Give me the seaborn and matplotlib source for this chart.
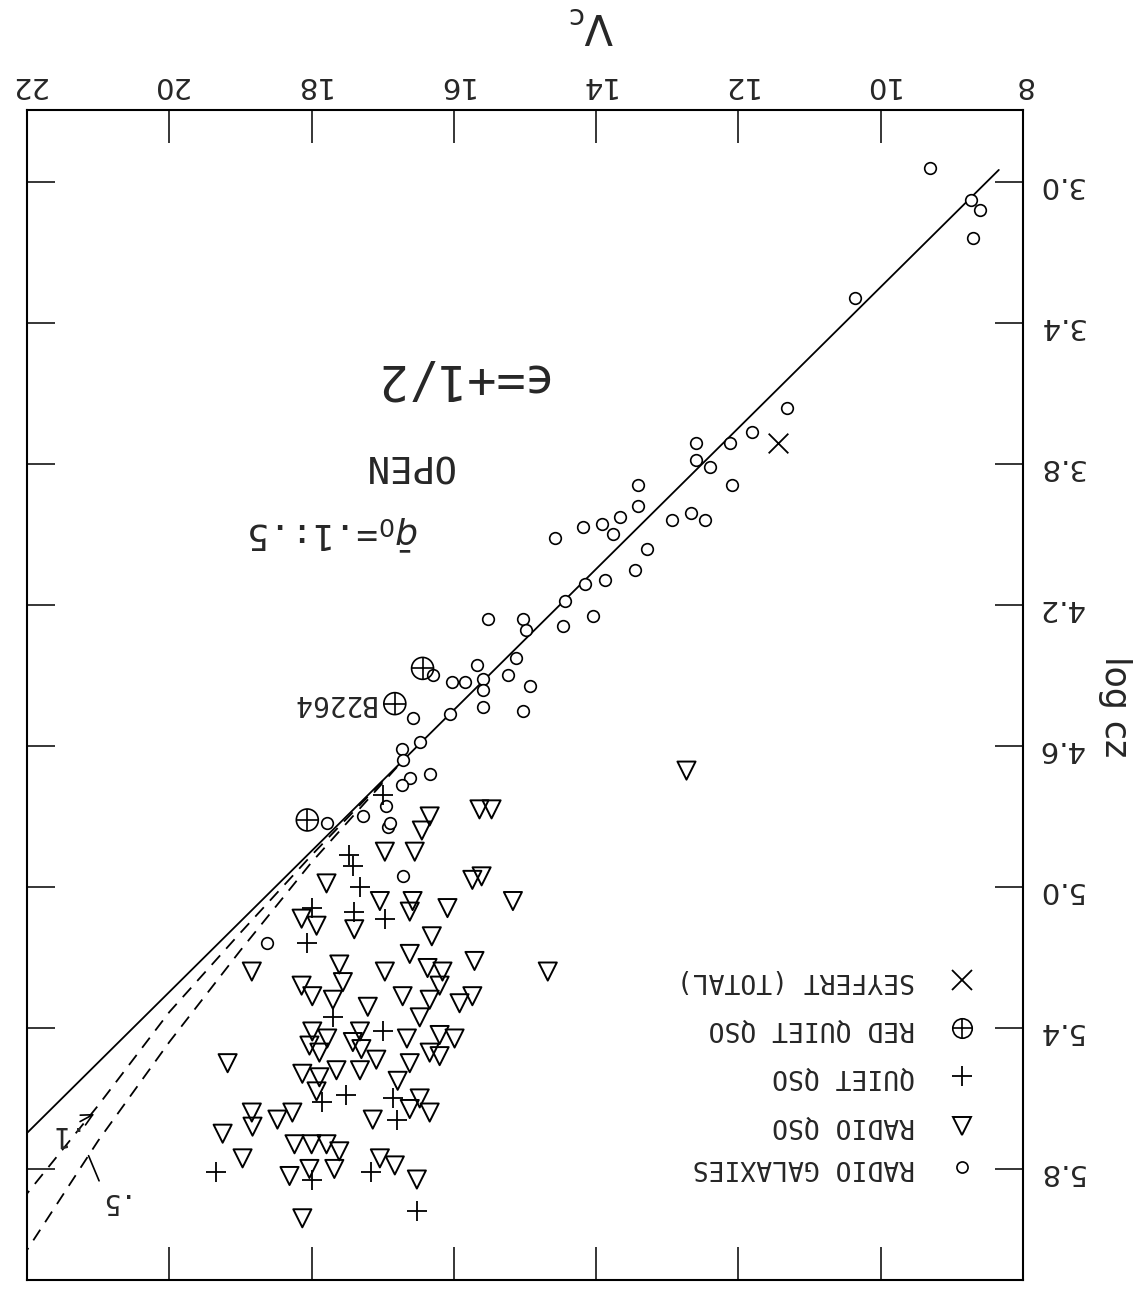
import matplotlib
matplotlib.use('Agg')
import matplotlib.pyplot as plt
import seaborn as sns

# Hubble diagram (scan is upside down, so the chart is drawn rotated by 180 deg)

# radio galaxies
rg_v = [9.31, 8.73, 8.60, 8.70, 10.36, 11.32, 11.81, 12.12, 12.59, 12.59, 12.40, 12.09,
        13.41, 13.41, 13.67, 12.94, 12.66, 12.47, 13.92, 14.19, 13.77, 14.58, 13.29, 13.46,
        14.16, 13.88, 14.44, 14.05, 14.47, 15.52, 15.03, 14.98, 15.12, 15.68, 15.24, 14.93,
        16.02, 15.85, 15.59, 15.59, 16.30, 16.58, 16.06, 15.59, 15.03, 16.48, 16.73, 16.72,
        16.34, 16.62, 16.73, 16.95, 16.93, 17.79, 17.28, 16.72, 18.62, 16.90]
rg_logcz = [2.96, 3.05, 3.08, 3.16, 3.33, 3.64, 3.71, 3.74, 3.74, 3.79, 3.81, 3.86,
            3.86, 3.92, 3.95, 3.96, 3.94, 3.96, 3.97, 3.98, 4.00, 4.01, 4.04, 4.10,
            4.14, 4.13, 4.19, 4.23, 4.26, 4.24, 4.24, 4.27, 4.35, 4.37, 4.40, 4.43,
            4.42, 4.42, 4.41, 4.44, 4.40, 4.52, 4.51, 4.49, 4.50, 4.59, 4.61, 4.64,
            4.68, 4.69, 4.71, 4.77, 4.83, 4.82, 4.80, 4.97, 5.16, 4.82]

# radio QSOs
rq_v = [16.34, 15.64, 15.47, 16.45, 16.97, 16.55, 17.79, 15.74, 15.61, 15.17, 17.04, 16.58,
        16.62, 16.09, 17.40, 16.31, 18.14, 17.93, 18.84, 17.61, 18.14, 17.56, 16.97, 16.62,
        16.37, 16.16, 15.71, 14.68, 17.99, 17.70, 17.21, 16.72, 16.34, 16.48, 16.20, 15.92,
        15.74, 19.18, 17.99, 17.78, 18.03, 17.89, 17.32, 17.42, 17.30, 17.09, 16.66, 16.20,
        15.99, 16.20, 16.34, 16.62, 16.79, 18.13, 17.89, 17.65, 17.32, 17.93, 18.84, 18.83,
        18.48, 18.27, 19.25, 17.14, 16.62, 16.48, 16.34, 18.24, 18.00, 17.79, 17.61, 18.97,
        18.31, 18.03, 17.68, 17.04, 16.83, 16.52, 18.13, 12.73]
rq_logcz = [4.80, 4.78, 4.78, 4.84, 4.90, 4.90, 4.99, 4.98, 4.97, 5.04, 5.04, 5.04,
            5.07, 5.06, 5.12, 5.14, 5.09, 5.11, 5.24, 5.22, 5.28, 5.27, 5.24, 5.19,
            5.23, 5.24, 5.21, 5.24, 5.31, 5.32, 5.34, 5.31, 5.32, 5.37, 5.28, 5.33,
            5.31, 5.50, 5.41, 5.43, 5.45, 5.47, 5.41, 5.44, 5.46, 5.49, 5.43, 5.42,
            5.43, 5.48, 5.47, 5.50, 5.55, 5.53, 5.54, 5.52, 5.52, 5.58, 5.64, 5.68,
            5.66, 5.64, 5.70, 5.66, 5.63, 5.60, 5.64, 5.73, 5.73, 5.73, 5.75, 5.77,
            5.82, 5.80, 5.80, 5.77, 5.79, 5.83, 5.94, 4.67]

# quiet QSOs
qq_v = [17.42, 17.32, 17.99, 17.40, 16.97, 18.07, 17.70, 17.00, 17.51, 17.85, 16.86, 16.80,
        19.34, 17.99, 17.16, 16.52, 17.00, 17.47]
qq_logcz = [4.94, 5.00, 5.06, 5.07, 5.09, 5.16, 5.37, 5.41, 5.59, 5.61, 5.60, 5.66,
            5.81, 5.83, 5.81, 5.92, 4.74, 4.91]

# red quiet QSOs
rqq_v = [16.44, 16.83, 18.06]
rqq_logcz = [4.38, 4.48, 4.81]

# Seyfert (total)
sey_v = [11.45]
sey_logcz = [3.74]

# curves
solid_v = [8.34, 22.0]
solid_logcz = [2.966, 5.698]
q01_v = [17.0, 18.0, 19.0, 20.0, 21.0, 22.0]
q01_logcz = [4.70, 4.91, 5.13, 5.355, 5.62, 5.87]
q05_v = [16.8, 18.0, 19.0, 20.0, 21.0, 22.0]
q05_logcz = [4.66, 4.93, 5.18, 5.44, 5.72, 6.03]

x_ticks = [8, 10, 12, 14, 16, 18, 20, 22]
y_ticks = [3.0, 3.4, 3.8, 4.2, 4.6, 5.0, 5.4, 5.8]

legend_labels = ['SEYFERT (TOTAL)', 'RED QUIET QSO', 'QUIET QSO', 'RADIO QSO', 'RADIO GALAXIES']

sns.set_style('white')
plt.rcParams['font.family'] = ['DejaVu Sans Mono', 'DejaVu Sans']

fig = plt.figure(figsize=(11.41, 12.94), dpi=100)
ax = fig.add_axes([27/1141, 14/1294, 996/1141, 1170/1294])

# curves
sns.lineplot(x=solid_v, y=solid_logcz, color='black', lw=1.3, sort=False, estimator=None, ax=ax)
sns.lineplot(x=q01_v, y=q01_logcz, color='black', lw=1.3, ls=(0, (7, 5)), sort=False, estimator=None, ax=ax)
sns.lineplot(x=q05_v, y=q05_logcz, color='black', lw=1.3, ls=(0, (7, 5)), sort=False, estimator=None, ax=ax)

# points
sns.scatterplot(x=rg_v, y=rg_logcz, marker='o', s=70, facecolor='white', edgecolor='black',
                linewidth=1.2, ax=ax, zorder=3)
sns.scatterplot(x=rq_v, y=rq_logcz, marker='v', s=170, facecolor='none', edgecolor='black',
                linewidth=1.4, ax=ax, zorder=3)
sns.scatterplot(x=qq_v, y=qq_logcz, marker='+', s=200, color='black', linewidth=1.3, ax=ax, zorder=3)
sns.scatterplot(x=rqq_v, y=rqq_logcz, marker='o', s=250, facecolor='none', edgecolor='black',
                linewidth=1.2, ax=ax, zorder=3)
sns.scatterplot(x=rqq_v, y=rqq_logcz, marker='+', s=250, color='black', linewidth=1.2, ax=ax, zorder=3)
sns.scatterplot(x=sey_v, y=sey_logcz, marker='x', s=200, color='black', linewidth=1.3, ax=ax, zorder=3)

ax.set_xlim(22, 8)
ax.set_ylim(6.115, 2.796)

ax.set_xticks(x_ticks)
ax.set_xticklabels([str(t) for t in x_ticks], family='DejaVu Sans')
ax.set_yticks(y_ticks)
ax.set_yticklabels([f'{t:.1f}' for t in y_ticks], family='DejaVu Sans')
ax.tick_params(axis='x', direction='in', length=24, width=1.3, top=True, bottom=True,
               labeltop=True, labelbottom=False, labelrotation=180, labelsize=21, pad=8)
ax.tick_params(axis='y', direction='in', length=20, width=1.3, left=True, right=True,
               labelleft=False, labelright=True, labelrotation=180, labelsize=21, pad=10)
for sp in ax.spines.values():
    sp.set_color('black')
    sp.set_linewidth(1.5)

ax.set_xlabel('V$_\\mathrm{c}$', rotation=180, fontsize=30, family='DejaVu Sans')
ax.xaxis.set_label_position('top')
ax.xaxis.set_label_coords(0.567, 1.073)
ax.xaxis.label.set_va('center')
ax.set_ylabel('log cz', rotation=270, fontsize=25, family='DejaVu Sans')
ax.yaxis.set_label_position('right')
ax.yaxis.set_label_coords(1.092, 0.49)
ax.yaxis.label.set_va('center')

# legend (upside down, symbol to the right of the text)
rows = [0.256, 0.215, 0.174, 0.132, 0.097]
ax.plot(0.939, rows[0], marker='x', ms=14, mew=1.3, color='black', transform=ax.transAxes)
ax.plot(0.939, rows[1], marker='o', ms=14, mew=1.2, mfc='none', color='black', transform=ax.transAxes)
ax.plot(0.939, rows[1], marker='+', ms=14, mew=1.2, color='black', transform=ax.transAxes)
ax.plot(0.939, rows[2], marker='+', ms=14, mew=1.3, color='black', transform=ax.transAxes)
ax.plot(0.939, rows[3], marker='v', ms=13, mew=1.4, mfc='none', color='black', transform=ax.transAxes)
ax.plot(0.939, rows[4], marker='o', ms=8, mew=1.2, mfc='white', color='black', transform=ax.transAxes)
for r, lab in zip(rows, legend_labels):
    ax.text(0.892, r, lab, transform=ax.transAxes, rotation=180, ha='right', va='center', fontsize=19)

# annotations
ax.text(15.92, 3.556, 'ϵ=+1/2', rotation=180, ha='center', va='center', fontsize=35)
ax.text(16.65, 3.803, 'OPEN', rotation=180, ha='center', va='center', fontsize=27)
ax.text(17.69, 3.993, '$\\bar{q}_0$=.1:.5', rotation=180, ha='center', va='center', fontsize=26)
ax.text(17.70, 4.478, 'B2264', rotation=180, ha='center', va='center', fontsize=20)
ax.annotate('.1', xy=(21.02, 5.64), xytext=(21.57, 5.70), rotation=180, ha='center', va='center',
            fontsize=20, arrowprops=dict(arrowstyle='->', color='black', lw=1.2))
ax.annotate('.5', xy=(21.15, 5.755), xytext=(20.87, 5.89), rotation=180, ha='center', va='center',
            fontsize=20, arrowprops=dict(arrowstyle='-', color='black', lw=1.2))

fig.savefig('out.png', dpi=100)
